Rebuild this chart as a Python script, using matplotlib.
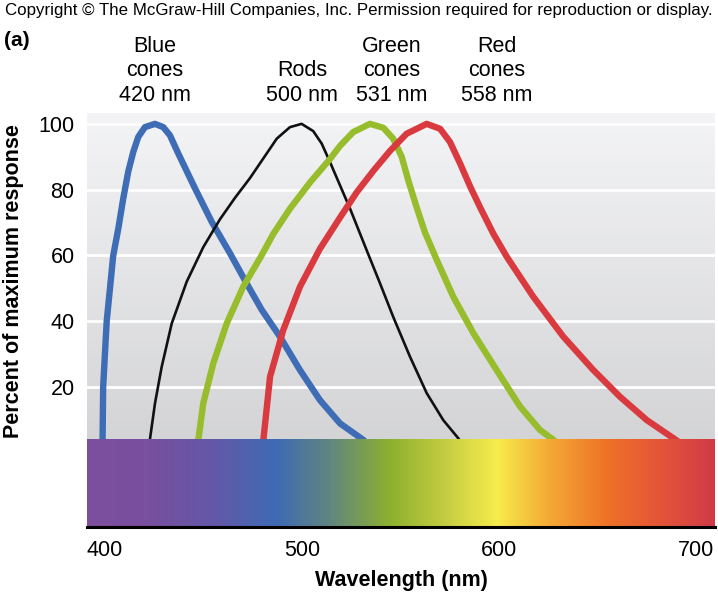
import numpy as np
import matplotlib.pyplot as plt
from matplotlib.colors import to_rgb

plt.rcParams['font.family'] = ['Liberation Sans', 'DejaVu Sans']

# response curves: wavelength (nm) and percent of max
blue_nm = [398.7, 398.8, 399.1, 400.9, 404.2, 406.8, 409.3, 411.8, 414.4, 416.9, 420.3,
           425.4, 429.6, 433.0, 437.2, 445.7, 454.2, 463.5, 471.9, 479.5, 488.8, 499.0,
           509.1, 519.3, 531.1, 533.5]
blue_pct = [0, 3.9, 20, 40, 59.9, 68.2, 77.3, 85.4, 91.5, 96, 99,
            100, 99, 96.5, 91, 80.4, 70.2, 60.6, 51.5, 43.5, 35.3, 25.1,
            16, 8.9, 3.9, 2.5]

rod_nm = [421.8, 422.8, 425.4, 428.8, 433.9, 441.5, 449.9, 458.4, 466.0, 473.6, 480.4,
          487.2, 493.9, 499.8, 505.7, 510.0, 514.2, 519.3, 524.4, 532.8, 539.6, 546.3,
          554.8, 563.3, 571.7, 579.3, 581.5]
rod_pct = [0, 3.9, 15, 26.1, 39.3, 52, 62.5, 71, 77.5, 83.5, 89.5,
           95.5, 99, 100, 97.8, 94, 88.4, 81.3, 74.2, 61.6, 51.5, 41.3,
           29.2, 18.1, 9.9, 4.4, 2.5]

green_nm = [446.6, 447.4, 449.9, 455.0, 461.8, 470.2, 479.5, 485.4, 493.9, 504.1, 514.2,
            519.3, 526.0, 534.5, 541.3, 546.3, 550.6, 554.0, 558.2, 562.4, 568.4, 576.8,
            587.0, 598.8, 610.7, 620.8, 627.6, 630.0]
green_pct = [0, 3.9, 15, 27.2, 39.3, 50.5, 60, 66.5, 74.2, 82.2, 89.3,
             93.3, 97.5, 100, 98.8, 95.5, 90, 82.7, 74.6, 67, 58.6, 47.4,
             36.3, 25.1, 14, 6.9, 3.9, 2.5]

red_nm = [479.8, 480.4, 483.8, 490.5, 499.0, 509.1, 519.3, 527.8, 536.2, 544.7, 553.1,
          563.3, 570.1, 575.1, 580.2, 585.3, 590.4, 597.1, 603.9, 617.4, 632.6, 647.9,
          661.4, 675.0, 688.5, 693.0]
red_pct = [0, 3.9, 23.1, 37.3, 50.5, 62, 71.5, 79.2, 85.7, 91.8, 97,
           100, 98.5, 94.5, 88, 81, 74.6, 66.6, 59.6, 47.4, 35.3, 25.1,
           17, 9.9, 4.4, 2.5]

peak_labels = ["Blue\ncones\n420 nm", "Rods\n500 nm", "Green\ncones\n531 nm", "Red\ncones\n558 nm"]
label_x = [425.5, 500.0, 545.5, 599.0]

y_ticks = [20, 40, 60, 80, 100]
x_ticks = [400, 500, 600, 700]

# visible spectrum colours along the strip
spec_nm = [391, 420, 455, 487, 512, 545, 575, 599, 625, 655, 685, 710]
spec_col = ['#7c4e9e', '#7a4f9f', '#6458a8', '#3e6bb4', '#5e8384', '#8db12d',
            '#c9cf43', '#f7ec4c', '#f4ab35', '#ee7227', '#e2523a', '#d03a47']

XMIN, XMAX = 390.9, 709.6
YMIN, YMAX = -22.6, 103.3
STRIP_TOP = 3.9


def spectrum_image(n=600):
    xs = np.linspace(XMIN, XMAX, n)
    rgb = np.array([to_rgb(c) for c in spec_col])
    img = np.stack([np.interp(xs, spec_nm, rgb[:, k]) for k in range(3)], axis=-1)
    return img[np.newaxis, :, :]


def main():
    fig = plt.figure(figsize=(7.18, 6.12), dpi=100)
    ax = fig.add_axes([87 / 718, 85 / 612, 628 / 718, 414 / 612])

    # grey panel, lighter at the top
    shade = np.linspace(0.955, 0.83, 200)[:, np.newaxis]
    grey = np.dstack([shade, shade * 1.002, shade * 1.01])
    ax.imshow(np.clip(grey, 0, 1), extent=[XMIN, XMAX, STRIP_TOP, YMAX], aspect='auto',
              origin='upper', zorder=0)
    for v in y_ticks:
        ax.axhline(v, color='white', lw=2.0, zorder=1)

    ax.plot(blue_nm, blue_pct, color='#3e6cb5', lw=4.6, solid_joinstyle='round', zorder=3)
    ax.plot(rod_nm, rod_pct, color='#111111', lw=1.9, solid_joinstyle='round', zorder=3)
    ax.plot(green_nm, green_pct, color='#97bc2c', lw=4.6, solid_joinstyle='round', zorder=3)
    ax.plot(red_nm, red_pct, color='#d83a3f', lw=4.6, solid_joinstyle='round', zorder=3)

    ax.imshow(spectrum_image(), extent=[XMIN, XMAX, YMIN, STRIP_TOP], aspect='auto', zorder=4)

    ax.set_xlim(XMIN, XMAX)
    ax.set_ylim(YMIN, YMAX)
    ax.set_xticks(x_ticks)
    ax.set_yticks(y_ticks)
    ax.tick_params(axis='x', direction='in', length=11, width=1.2, pad=9,
                   labelsize=15.5, color='black')
    ax.tick_params(axis='y', length=0, pad=9, labelsize=15.5)
    for s in ['top', 'right', 'left']:
        ax.spines[s].set_visible(False)
    ax.spines['bottom'].set_linewidth(2.2)
    ax.spines['bottom'].set_zorder(6)
    for t in ax.xaxis.get_ticklines():
        t.set_zorder(6)

    ax.set_xlabel('Wavelength (nm)', fontsize=15.5, fontweight='bold')
    ax.xaxis.set_label_coords(0.5, -0.103)
    ax.set_ylabel('Percent of maximum response', fontsize=15.5, fontweight='bold')
    ax.yaxis.set_label_coords(-0.1, 0.594)

    trans = ax.get_xaxis_transform()
    for txt, x in zip(peak_labels, label_x):
        ax.text(x, 1.018, txt, transform=trans, ha='center', va='bottom',
                fontsize=15.5, linespacing=1.2)

    fig.text(0.5, 1 - 10 / 612, 'Copyright \u00a9 The McGraw-Hill Companies, Inc. '
             'Permission required for reproduction or display.',
             ha='center', va='center', fontsize=12.2)
    fig.text(4 / 718, 1 - 41 / 612, '(a)', fontsize=15, fontweight='bold', va='center')

    fig.savefig('out.png', dpi=100)


if __name__ == "__main__":
    main()
